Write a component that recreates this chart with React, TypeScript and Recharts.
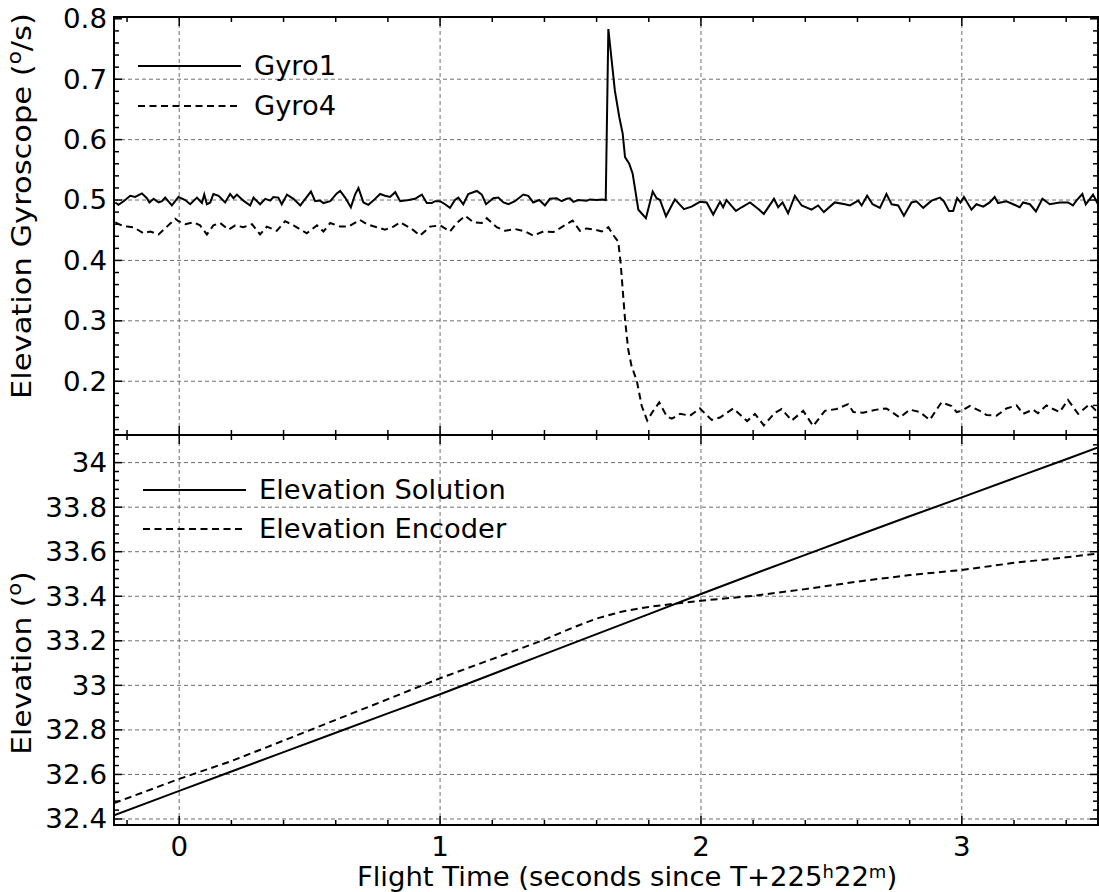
import React from 'react';
import { LineChart, Line, XAxis, YAxis, CartesianGrid, Legend, ReferenceArea } from 'recharts';

const FONT = '"DejaVu Sans", sans-serif';
const FS = 26;

// ---------- axes / ticks ----------
const xDomain: [number, number] = [-0.25, 3.522];
const xMajorTicks = [0, 1, 2, 3];
const xMinorTicks = [-0.2, 0.2, 0.4, 0.6, 0.8, 1.2, 1.4, 1.6, 1.8, 2.2, 2.4, 2.6, 2.8, 3.2, 3.4];

const gyroDomain: [number, number] = [0.111, 0.803];
const gyroMajorTicks = [0.2, 0.3, 0.4, 0.5, 0.6, 0.7, 0.8];
const gyroGridValues = [0.2, 0.3, 0.4, 0.5, 0.6, 0.7];
const gyroMinorTicks = [0.12, 0.14, 0.16, 0.18, 0.22, 0.24, 0.26, 0.28, 0.32, 0.34, 0.36, 0.38, 0.42, 0.44, 0.46, 0.48,
  0.52, 0.54, 0.56, 0.58, 0.62, 0.64, 0.66, 0.68, 0.72, 0.74, 0.76, 0.78];

const elevDomain: [number, number] = [32.373, 34.124];
const elevMajorTicks = [32.4, 32.6, 32.8, 33, 33.2, 33.4, 33.6, 33.8, 34];
const elevMinorTicks = [32.44, 32.48, 32.52, 32.56, 32.64, 32.68, 32.72, 32.76, 32.84, 32.88, 32.92, 32.96,
  33.04, 33.08, 33.12, 33.16, 33.24, 33.28, 33.32, 33.36, 33.44, 33.48, 33.52, 33.56, 33.64, 33.68, 33.72, 33.76,
  33.84, 33.88, 33.92, 33.96, 34.04, 34.08];

// ---------- data ----------
const gyro1T = [
  -0.245, -0.233, -0.213, -0.188, -0.169, -0.143, -0.124, -0.114, -0.098, -0.079,
  -0.066, -0.054, -0.028, -0.003, 0.023, 0.042, 0.068, 0.087, 0.096, 0.106,
  0.119, 0.131, 0.151, 0.176, 0.195, 0.208, 0.221, 0.246, 0.272, 0.285,
  0.310, 0.330, 0.349, 0.361, 0.380, 0.393, 0.413, 0.438, 0.464, 0.487,
  0.505, 0.521, 0.540, 0.553, 0.579, 0.604, 0.617, 0.636, 0.658, 0.674,
  0.687, 0.706, 0.725, 0.744, 0.770, 0.789, 0.808, 0.828, 0.847, 0.879,
  0.904, 0.930, 0.949, 0.968, 0.981, 1.000, 1.019, 1.038, 1.057, 1.070,
  1.089, 1.108, 1.141, 1.160, 1.176, 1.204, 1.223, 1.243, 1.262, 1.287,
  1.319, 1.338, 1.357, 1.380, 1.402, 1.421, 1.447, 1.466, 1.485, 1.498,
  1.511, 1.530, 1.562, 1.575, 1.600, 1.620, 1.635, 1.645, 1.670, 1.687,
  1.700, 1.709, 1.725, 1.738, 1.760, 1.789, 1.815, 1.830, 1.843, 1.866,
  1.900, 1.935, 1.964, 1.996, 2.022, 2.047, 2.073, 2.085, 2.098, 2.134,
  2.156, 2.188, 2.220, 2.241, 2.280, 2.296, 2.313, 2.334, 2.360, 2.386,
  2.424, 2.449, 2.471, 2.513, 2.552, 2.571, 2.603, 2.616, 2.637, 2.658,
  2.686, 2.711, 2.731, 2.756, 2.778, 2.807, 2.826, 2.852, 2.884, 2.916,
  2.931, 2.951, 2.967, 2.982, 2.995, 3.008, 3.037, 3.056, 3.082, 3.107,
  3.126, 3.139, 3.171, 3.197, 3.222, 3.235, 3.261, 3.284, 3.309, 3.337,
  3.375, 3.407, 3.426, 3.439, 3.462, 3.475, 3.503, 3.522,
];
const gyro1V = [
  0.496, 0.492, 0.498, 0.507, 0.505, 0.511, 0.503, 0.496, 0.502, 0.496,
  0.498, 0.504, 0.491, 0.505, 0.500, 0.493, 0.504, 0.495, 0.509, 0.493,
  0.496, 0.510, 0.507, 0.496, 0.510, 0.503, 0.509, 0.499, 0.491, 0.504,
  0.493, 0.502, 0.499, 0.505, 0.504, 0.493, 0.509, 0.502, 0.491, 0.504,
  0.514, 0.498, 0.499, 0.495, 0.498, 0.511, 0.515, 0.504, 0.488, 0.509,
  0.520, 0.496, 0.492, 0.499, 0.510, 0.507, 0.505, 0.513, 0.498, 0.500,
  0.502, 0.509, 0.495, 0.495, 0.498, 0.498, 0.493, 0.487, 0.500, 0.504,
  0.493, 0.510, 0.515, 0.509, 0.493, 0.503, 0.504, 0.496, 0.493, 0.498,
  0.509, 0.507, 0.496, 0.500, 0.491, 0.502, 0.503, 0.498, 0.502, 0.503,
  0.497, 0.500, 0.499, 0.501, 0.500, 0.501, 0.500, 0.783, 0.681, 0.637,
  0.610, 0.571, 0.560, 0.544, 0.484, 0.470, 0.514, 0.503, 0.500, 0.473,
  0.501, 0.485, 0.489, 0.497, 0.496, 0.476, 0.497, 0.488, 0.500, 0.482,
  0.488, 0.496, 0.485, 0.477, 0.502, 0.488, 0.496, 0.478, 0.507, 0.491,
  0.484, 0.491, 0.480, 0.496, 0.493, 0.491, 0.499, 0.491, 0.507, 0.493,
  0.487, 0.510, 0.493, 0.491, 0.474, 0.496, 0.498, 0.487, 0.499, 0.504,
  0.498, 0.482, 0.482, 0.503, 0.496, 0.505, 0.484, 0.493, 0.489, 0.496,
  0.505, 0.495, 0.498, 0.493, 0.488, 0.496, 0.493, 0.481, 0.502, 0.493,
  0.496, 0.496, 0.491, 0.499, 0.510, 0.493, 0.509, 0.493,
];

const gyro4T = [
  -0.245, -0.226, -0.200, -0.175, -0.137, -0.111, -0.079, -0.047, -0.015, -0.003,
  0.023, 0.055, 0.080, 0.106, 0.131, 0.157, 0.189, 0.215, 0.246, 0.279,
  0.310, 0.336, 0.374, 0.406, 0.438, 0.489, 0.528, 0.553, 0.579, 0.617,
  0.649, 0.693, 0.719, 0.757, 0.789, 0.821, 0.847, 0.892, 0.923, 0.962,
  1.000, 1.038, 1.064, 1.096, 1.128, 1.160, 1.179, 1.217, 1.249, 1.287,
  1.326, 1.357, 1.396, 1.434, 1.466, 1.508, 1.536, 1.562, 1.594, 1.620,
  1.645, 1.664, 1.683, 1.692, 1.700, 1.709, 1.721, 1.734, 1.754, 1.773,
  1.794, 1.817, 1.840, 1.869, 1.888, 1.920, 1.958, 1.996, 2.041, 2.073,
  2.124, 2.177, 2.207, 2.241, 2.284, 2.309, 2.348, 2.392, 2.430, 2.475,
  2.520, 2.564, 2.584, 2.622, 2.673, 2.711, 2.762, 2.801, 2.839, 2.877,
  2.922, 2.961, 2.980, 2.999, 3.031, 3.069, 3.095, 3.133, 3.171, 3.210,
  3.235, 3.273, 3.292, 3.324, 3.350, 3.375, 3.407, 3.446, 3.490, 3.522,
];
const gyro4V = [
  0.463, 0.459, 0.456, 0.455, 0.445, 0.448, 0.443, 0.456, 0.469, 0.465,
  0.460, 0.463, 0.458, 0.443, 0.458, 0.462, 0.451, 0.458, 0.455, 0.460,
  0.443, 0.456, 0.449, 0.465, 0.458, 0.445, 0.458, 0.448, 0.462, 0.456,
  0.456, 0.467, 0.460, 0.455, 0.451, 0.456, 0.463, 0.452, 0.441, 0.456,
  0.458, 0.448, 0.462, 0.474, 0.463, 0.462, 0.470, 0.455, 0.449, 0.452,
  0.448, 0.441, 0.448, 0.447, 0.455, 0.466, 0.449, 0.453, 0.451, 0.448,
  0.455, 0.442, 0.431, 0.396, 0.352, 0.302, 0.253, 0.225, 0.201, 0.159,
  0.135, 0.151, 0.165, 0.142, 0.138, 0.146, 0.143, 0.155, 0.136, 0.140,
  0.155, 0.134, 0.146, 0.127, 0.148, 0.154, 0.135, 0.151, 0.126, 0.151,
  0.154, 0.162, 0.149, 0.148, 0.153, 0.155, 0.140, 0.153, 0.149, 0.136,
  0.165, 0.159, 0.149, 0.151, 0.159, 0.151, 0.144, 0.143, 0.155, 0.160,
  0.146, 0.153, 0.147, 0.160, 0.154, 0.149, 0.169, 0.146, 0.162, 0.148,
];

const solutionT = [-0.25, 0, 0.2, 0.4, 0.6, 0.8, 1.0, 1.2, 1.4, 1.6, 1.8, 2.0, 2.2, 2.4, 2.6, 2.8, 3.0, 3.2, 3.4, 3.522];
const solutionV = [32.417, 32.526, 32.613, 32.700, 32.787, 32.874, 32.960, 33.050, 33.140, 33.230, 33.320, 33.410,
  33.499, 33.586, 33.673, 33.759, 33.844, 33.930, 34.015, 34.068];

const encoderT = [-0.25, 0, 0.2, 0.4, 0.6, 0.8, 1.0, 1.2, 1.4, 1.5, 1.6, 1.7, 1.8, 1.9, 2.0, 2.2, 2.4, 2.6, 2.8, 3.0, 3.2, 3.4, 3.522];
const encoderV = [32.471, 32.580, 32.660, 32.752, 32.845, 32.938, 33.032, 33.118, 33.205, 33.255, 33.300, 33.332,
  33.352, 33.367, 33.380, 33.402, 33.432, 33.466, 33.495, 33.518, 33.550, 33.575, 33.592];

const gyroNames = ['Gyro1', 'Gyro4'];
const elevNames = ['Elevation Solution', 'Elevation Encoder'];

const zip = (t: number[], v: number[]) => t.map((x, i) => ({ t: x, v: v[i] }));

// ---------- stretched text helper ----------
const SText = (props: any) => {
  const { x, y, sx = 1, anchor = 'start', size = FS, rotate = false, children } = props;
  const tf = `translate(${x} ${y})${rotate ? ' rotate(-90)' : ''} scale(${sx} 1)`;
  return (
    <text transform={tf} x={0} y={0} textAnchor={anchor} fontFamily={FONT} fontSize={size} fill="#000">
      {children}
    </text>
  );
};

// ---------- tick renderers ----------
const isMajor = (majors: number[], v: number) => majors.some((m) => Math.abs(m - v) < 1e-6);
const TICK_W = 1.5;
const LEFT_MARGIN = 7;
const TICK_SX = 1.065;

const leftTick = (majors: number[]) => (p: any) => {
  const v = Number(p.payload.value);
  const px = Number(p.x);
  const py = Number(p.y);
  const major = isMajor(majors, v);
  const ax = px + LEFT_MARGIN;
  const len = major ? 8 : 5;
  return (
    <g>
      <path d={`M${ax},${py}H${ax + len}`} stroke="#000" strokeWidth={TICK_W} fill="none" />
      {major ? <SText x={px} y={py + 9.4} sx={TICK_SX} anchor="end">{String(v)}</SText> : null}
    </g>
  );
};

const rightTick = (majors: number[]) => (p: any) => {
  const px = Number(p.x);
  const py = Number(p.y);
  const len = isMajor(majors, Number(p.payload.value)) ? 8 : 5;
  return <path d={`M${px - len},${py}H${px}`} stroke="#000" strokeWidth={TICK_W} fill="none" />;
};

const topTick = (majors: number[]) => (p: any) => {
  const px = Number(p.x);
  const py = Number(p.y);
  const len = isMajor(majors, Number(p.payload.value)) ? 9 : 5;
  return <path d={`M${px},${py}V${py + len}`} stroke="#000" strokeWidth={TICK_W} fill="none" />;
};

const bottomTick = (majors: number[], labels: boolean) => (p: any) => {
  const v = Number(p.payload.value);
  const px = Number(p.x);
  const py = Number(p.y);
  const major = isMajor(majors, v);
  const len = major ? 9 : 5;
  return (
    <g>
      <path d={`M${px},${py - len}V${py}`} stroke="#000" strokeWidth={TICK_W} fill="none" />
      {labels && major ? <SText x={px} y={py + 31} sx={TICK_SX} anchor="middle">{String(v)}</SText> : null}
    </g>
  );
};

// ---------- titles ----------
const GyroTitle = (p: any) => {
  const vb = p.viewBox;
  return (
    <SText x={vb.x + 31} y={vb.y + vb.height / 2 - 20} rotate sx={1.13} size={27} anchor="middle">
      Elevation Gyroscope (<tspan dy={-10} fontSize={19}>o</tspan>
      <tspan dy={10}>/s)</tspan>
    </SText>
  );
};

const ElevTitle = (p: any) => {
  const vb = p.viewBox;
  return (
    <SText x={vb.x + 31} y={vb.y + vb.height / 2 + 33} rotate sx={1.1} size={27} anchor="middle">
      Elevation (<tspan dy={-10} fontSize={19}>o</tspan>
      <tspan dy={10}>)</tspan>
    </SText>
  );
};

const TimeTitle = (p: any) => {
  const vb = p.viewBox;
  return (
    <SText x={vb.x + vb.width / 2 + 21} y={vb.y + 61} sx={1.057} anchor="middle">
      Flight Time (seconds since T+225<tspan dy={-8} fontSize={17}>h</tspan>
      <tspan dy={8}>22</tspan>
      <tspan dy={-8} fontSize={17}>m</tspan>
      <tspan dy={8}>)</tspan>
    </SText>
  );
};

// ---------- legend ----------
const makeLegend = (order: string[], lineLen: number, gap: number, rowH: number) => (props: any) => {
  const items = [...(props.payload || [])].sort((a: any, b: any) => order.indexOf(a.value) - order.indexOf(b.value));
  return (
    <div style={{ position: 'relative', fontFamily: FONT, fontSize: FS, color: '#000' }}>
      {items.map((e: any, i: number) => (
        <div
          key={i}
          style={{ position: 'absolute', left: 0, top: i * rowH, height: 20, display: 'flex', alignItems: 'center', whiteSpace: 'nowrap' }}
        >
          <svg width={lineLen} height={20} style={{ display: 'block' }}>
            <line x1={0} x2={lineLen} y1={10} y2={10} stroke="#000" strokeWidth={2}
              strokeDasharray={e.payload && e.payload.strokeDasharray ? e.payload.strokeDasharray : undefined} />
          </svg>
          <span style={{ marginLeft: gap, lineHeight: '20px', display: 'inline-block', transform: 'scaleX(1.05)', transformOrigin: 'left center' }}>
            {e.value}
          </span>
        </div>
      ))}
    </div>
  );
};

const frame = { stroke: '#000', strokeWidth: 2 };
const gridStyle = { stroke: '#6e6e6e', strokeDasharray: '4 3', strokeWidth: 1 };
const DASH = '7 4.5';

export default function App() {
  const gyro1 = zip(gyro1T, gyro1V);
  const gyro4 = zip(gyro4T, gyro4V);
  const sol = zip(solutionT, solutionV);
  const enc = zip(encoderT, encoderV);
  const xTicks = [...xMajorTicks, ...xMinorTicks].sort((a, b) => a - b);
  const gyroTicks = [...gyroMajorTicks, ...gyroMinorTicks].sort((a, b) => a - b);
  const elevTicks = [...elevMajorTicks, ...elevMinorTicks].sort((a, b) => a - b);

  return (
    <div style={{ position: 'absolute', left: 0, top: 0, width: 1099, height: 892, background: '#fff', overflow: 'hidden' }}>
      {/* Top panel: gyroscope */}
      <div style={{ position: 'absolute', left: 0, top: 0 }}>
        <LineChart width={1099} height={450} margin={{ top: 16, right: 0, bottom: 14, left: 0 }}>
          <CartesianGrid xAxisId="b" yAxisId="l" horizontalValues={gyroGridValues} verticalValues={xMajorTicks} {...gridStyle} />
          <XAxis xAxisId="b" type="number" dataKey="t" domain={xDomain} allowDataOverflow ticks={xTicks} interval={0}
            height={1} tickSize={0} tickMargin={0} tickLine={false} axisLine={frame} tick={bottomTick(xMajorTicks, false)} />
          <XAxis xAxisId="t" orientation="top" type="number" dataKey="t" domain={xDomain} allowDataOverflow ticks={xTicks} interval={0}
            height={1} tickSize={0} tickMargin={0} tickLine={false} axisLine={frame} tick={topTick(xMajorTicks)} />
          <YAxis yAxisId="l" type="number" domain={gyroDomain} allowDataOverflow ticks={gyroTicks} interval={0}
            width={114} tickSize={0} tickMargin={LEFT_MARGIN} tickLine={false} axisLine={frame} tick={leftTick(gyroMajorTicks)}
            label={{ content: GyroTitle }} />
          <YAxis yAxisId="r" orientation="right" type="number" domain={gyroDomain} allowDataOverflow ticks={gyroTicks} interval={0}
            width={1} tickSize={0} tickMargin={0} tickLine={false} axisLine={frame} tick={rightTick(gyroMajorTicks)} />
          <ReferenceArea xAxisId="b" yAxisId="l" x1={xDomain[0]} x2={xDomain[1]} y1={gyroDomain[0]} y2={gyroDomain[1]}
            fill="none" fillOpacity={0} stroke="#000" strokeWidth={2} ifOverflow="visible" />
          <Legend layout="vertical" align="center" verticalAlign="middle" content={makeLegend(gyroNames, 103, 13, 40)}
            wrapperStyle={{ left: 138, top: 56, width: 400, height: 80 }} />
          <Line xAxisId="b" yAxisId="l" data={gyro1} dataKey="v" name={gyroNames[0]} type="linear" stroke="#000"
            strokeWidth={2} dot={false} isAnimationActive={false} />
          <Line xAxisId="b" yAxisId="l" data={gyro4} dataKey="v" name={gyroNames[1]} type="linear" stroke="#000"
            strokeWidth={2} strokeDasharray={DASH} dot={false} isAnimationActive={false} />
        </LineChart>
      </div>
      {/* Bottom panel: elevation */}
      <div style={{ position: 'absolute', left: 0, top: 420 }}>
        <LineChart width={1099} height={472} margin={{ top: 14, right: 0, bottom: 0, left: 0 }}>
          <CartesianGrid xAxisId="b" yAxisId="l" horizontalValues={elevMajorTicks} verticalValues={xMajorTicks} {...gridStyle} />
          <XAxis xAxisId="b" type="number" dataKey="t" domain={xDomain} allowDataOverflow ticks={xTicks} interval={0}
            height={67} tickSize={0} tickMargin={0} tickLine={false} axisLine={frame} tick={bottomTick(xMajorTicks, true)}
            label={{ content: TimeTitle }} />
          <XAxis xAxisId="t" orientation="top" type="number" dataKey="t" domain={xDomain} allowDataOverflow ticks={xTicks} interval={0}
            height={1} tickSize={0} tickMargin={0} tickLine={false} axisLine={frame} tick={topTick(xMajorTicks)} />
          <YAxis yAxisId="l" type="number" domain={elevDomain} allowDataOverflow ticks={elevTicks} interval={0}
            width={114} tickSize={0} tickMargin={LEFT_MARGIN} tickLine={false} axisLine={frame} tick={leftTick(elevMajorTicks)}
            label={{ content: ElevTitle }} />
          <YAxis yAxisId="r" orientation="right" type="number" domain={elevDomain} allowDataOverflow ticks={elevTicks} interval={0}
            width={1} tickSize={0} tickMargin={0} tickLine={false} axisLine={frame} tick={rightTick(elevMajorTicks)} />
          <ReferenceArea xAxisId="b" yAxisId="l" x1={xDomain[0]} x2={xDomain[1]} y1={elevDomain[0]} y2={elevDomain[1]}
            fill="none" fillOpacity={0} stroke="#000" strokeWidth={2} ifOverflow="visible" />
          <Legend layout="vertical" align="center" verticalAlign="middle" content={makeLegend(elevNames, 103, 13, 39)}
            wrapperStyle={{ left: 143, top: 60, width: 500, height: 80 }} />
          <Line xAxisId="b" yAxisId="l" data={sol} dataKey="v" name={elevNames[0]} type="linear" stroke="#000"
            strokeWidth={2} dot={false} isAnimationActive={false} />
          <Line xAxisId="b" yAxisId="l" data={enc} dataKey="v" name={elevNames[1]} type="linear" stroke="#000"
            strokeWidth={2} strokeDasharray={DASH} dot={false} isAnimationActive={false} />
        </LineChart>
      </div>
    </div>
  );
}
